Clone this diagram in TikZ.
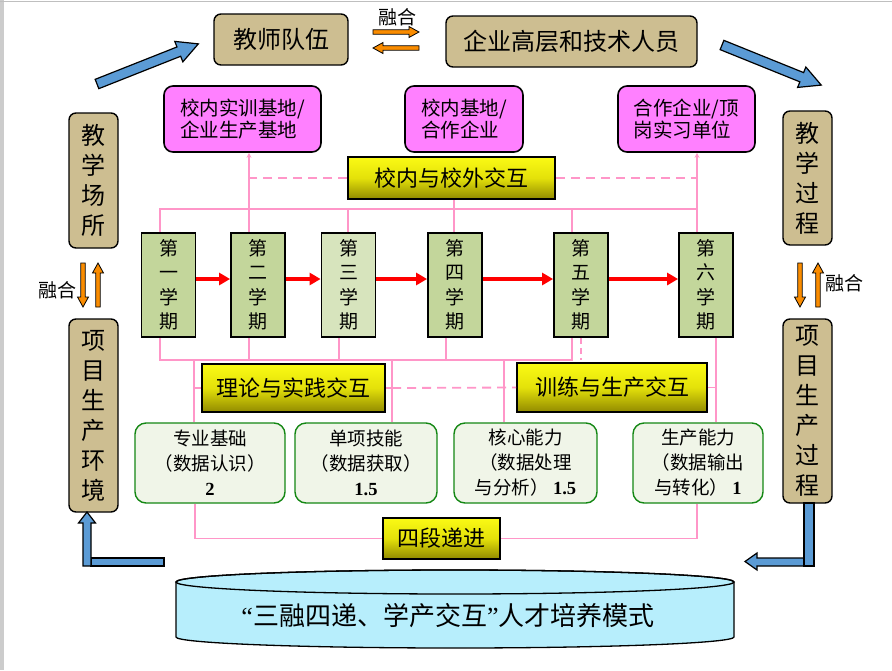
\documentclass[tikz,border=0pt]{standalone}
\usepackage{fontspec}
\setmainfont{Noto Sans CJK SC}
\newfontfamily\numfont{Liberation Serif}
\usetikzlibrary{arrows.meta}
\definecolor{tanc}{RGB}{205,190,145}
\definecolor{pinkc}{RGB}{255,128,255}
\definecolor{ytop}{RGB}{250,250,20}
\definecolor{ymid}{RGB}{228,225,10}
\definecolor{ybot}{RGB}{145,138,0}
\definecolor{semc}{RGB}{195,214,155}
\definecolor{semlc}{RGB}{215,228,189}
\definecolor{gfill}{RGB}{240,245,232}
\definecolor{gborder}{RGB}{20,135,20}
\definecolor{plc}{RGB}{255,150,200}
\definecolor{bluec}{RGB}{91,155,213}
\definecolor{orc}{RGB}{250,140,0}
\definecolor{cylc}{RGB}{183,238,252}
\newcommand{\orarr}[3]{\begin{scope}[shift={#1},rotate=#2]\draw[orshape] (0,-2.2) -- ({#3-10},-2.2) -- ({#3-10},-5.5) -- (#3,0) -- ({#3-10},5.5) -- ({#3-10},2.2) -- (0,2.2) -- cycle;\end{scope}}
\tikzset{
 tanbox/.style={draw, line width=1.4pt, rounded corners=7pt, fill=tanc, inner sep=0pt, align=center, font=\fontsize{24}{30}\selectfont},
 pinkbox/.style={draw, line width=1.6pt, rounded corners=9pt, fill=pinkc, inner sep=0pt, align=left, font=\fontsize{19.5}{22}\selectfont},
 ybox/.style={draw, line width=2pt, top color=ytop, bottom color=ybot, middle color=ymid, inner sep=0pt, font=\fontsize{22}{26}\selectfont},
 sembox/.style={draw, line width=1.8pt, fill=semc, inner sep=0pt, align=center, minimum width=54pt, minimum height=104pt, font=\fontsize{19}{24.5}\selectfont},
 gbox/.style={draw=gborder, line width=1.4pt, rounded corners=11pt, fill=gfill, inner sep=0pt, align=center, minimum height=80pt, font=\fontsize{18.5}{25}\selectfont},
 pl/.style={draw=plc, line width=1.8pt},
 pld/.style={pl, dash pattern=on 9pt off 6pt},
 redarr/.style={draw=red, line width=3.5pt, -{Triangle[length=11pt,width=12pt]}},
 blueshape/.style={draw, line width=1.2pt, fill=bluec, line join=miter},
 orshape/.style={draw, line width=0.8pt, fill=orc},
 mlabel/.style={font=\fontsize{19}{22}\selectfont, inner sep=0pt},
 smallhead/.style={-{Stealth[length=5pt,width=5pt]}},
}
\begin{document}
\begin{tikzpicture}[x=1pt,y=-1pt]
\useasboundingbox (0,0) rectangle (892,670);
\fill[white] (0,0) rectangle (892,670);
\fill[black!20] (0,0) rectangle (4,670);
\draw[black!25, line width=1pt] (0,1) -- (892,1);

% tan boxes
\node[tanbox, minimum width=134pt, minimum height=51pt] (t1) at (281,39.5) {教师队伍};
\node[tanbox, minimum width=251pt, minimum height=51pt] (t2) at (571.5,41.5) {企业高层和技术人员};
\node[tanbox, minimum width=49pt, minimum height=135pt] (t3) at (93.5,180.5) {教\\学\\场\\所};
\node[tanbox, minimum width=49pt, minimum height=193pt] (t4) at (93.5,415.5) {项\\目\\生\\产\\环\\境};
\node[tanbox, minimum width=49pt, minimum height=134pt] (t5) at (807.5,178) {教\\学\\过\\程};
\node[tanbox, minimum width=49pt, minimum height=184pt] (t6) at (807.5,411) {项\\目\\生\\产\\过\\程};

% pink boxes
\node[pinkbox, minimum width=157pt, minimum height=66pt] (pk1) at (242.5,119) {校内实训基地/\\企业生产基地};
\node[pinkbox, minimum width=118pt, minimum height=66pt] (pk2) at (464,119) {校内基地/\\合作企业};
\node[pinkbox, minimum width=137pt, minimum height=66pt] (pk3) at (686.5,119) {合作企业/顶\\岗实习单位};

% yellow boxes
\node[ybox, minimum width=207pt, minimum height=42pt] (y1) at (451.5,178) {校内与校外交互};
\node[ybox, minimum width=183pt, minimum height=48pt] (y2) at (293.5,388) {理论与实践交互};
\node[ybox, minimum width=190pt, minimum height=49pt] (y3) at (612,387.5) {训练与生产交互};
\node[ybox, minimum width=117pt, minimum height=41pt] (y4) at (441.5,538.5) {四段递进};

% semesters
\node[sembox] (s1) at (168.5,285) {第\\一\\学\\期};
\node[sembox] (s2) at (258,285) {第\\二\\学\\期};
\node[sembox, fill=semlc] (s3) at (348.5,285) {第\\三\\学\\期};
\node[sembox] (s4) at (455,285) {第\\四\\学\\期};
\node[sembox] (s5) at (581,285) {第\\五\\学\\期};
\node[sembox] (s6) at (706,285) {第\\六\\学\\期};

% green boxes
\node[gbox, minimum width=150pt] (g1) at (210,463) {专业基础\\（数据认识）\\{\numfont\bfseries 2}};
\node[gbox, minimum width=142pt] (g2) at (366,463) {单项技能\\（数据获取）\\{\numfont\bfseries 1.5}};
\node[gbox, minimum width=143pt] (g3) at (525.5,463) {核心能力\\（数据处理\\与分析） {\numfont\bfseries 1.5}};
\node[gbox, minimum width=130pt] (g4) at (698,463) {生产能力\\（数据输出\\与转化） {\numfont\bfseries 1}};

% reference coordinates
\coordinate (bt) at (0,209);
\coordinate (bb) at (0,360);
\coordinate (xa) at (160,0);
\coordinate (xb) at (249,0);
\coordinate (xc) at (348,0);
\coordinate (xd) at (454,0);
\coordinate (xe) at (572,0);
\coordinate (xf) at (697,0);
\coordinate (xc2) at (339,0);
\coordinate (xd2) at (446,0);
\coordinate (xdash) at (581,0);
\coordinate (xg1) at (194,0);
\coordinate (xg2) at (392,0);
\coordinate (xg3) at (504,0);
\coordinate (xg4) at (716,0);
\coordinate (xh) at (195,0);

% top pink network
\draw[pl] (s1.north -| xa) -- (bt -| xa) -- (bt -| xf);
\draw[pl, smallhead] (s2.north -| xb) -- (pk1.south -| xb);
\draw[pl, smallhead] (s6.north -| xf) -- (pk3.south -| xf);
\draw[pl] (s3.north -| xc) -- (bt -| xc);
\draw[pl] (s4.north -| xd) -- (y1.south -| xd);
\draw[pl] (s5.north -| xe) -- (bt -| xe);
\draw[pld] (y1.west) -- (y1.west -| xb);
\draw[pld] (y1.east) -- (y1.east -| xf);

% bottom pink network
\draw[pl] (s1.south -| xa) -- (bb -| xa) -- (bb -| xe) -- (s5.south -| xe);
\draw[pl] (s2.south -| xb) -- (bb -| xb);
\draw[pl] (s3.south -| xc2) -- (bb -| xc2);
\draw[pl] (s4.south -| xd2) -- (bb -| xd2);
\draw[pl, dash pattern=on 6pt off 4pt] (s5.south -| xdash) -- (bb -| xdash);
\draw[pl] (bb -| xg1) -- (g1.north -| xg1);
\draw[pl] (bb -| xg2) -- (g2.north -| xg2);
\draw[pl] (bb -| xg3) -- (g3.north -| xg3);
\draw[pl] (s6.south -| xg4) -- (g4.north -| xg4);
\draw[pl] (y2.west -| xg1) -- (y2.west);
\draw[pl] (y2.east) -- (y2.east -| xg2);
\draw[pld] (y2.east -| xg2) -- (y3.west);
\draw[pl] (y3.east) -- (y3.east -| xg4);
\draw[pl] (g1.south -| xh) |- (y4.west);
\draw[pl] (g4.south -| xf) |- (y4.east);

% red arrows
\draw[redarr] ([yshift=6pt]s1.east) -- ([yshift=6pt]s2.west);
\draw[redarr] ([yshift=6pt]s2.east) -- ([yshift=6pt]s3.west);
\draw[redarr] ([yshift=6pt]s3.east) -- ([yshift=6pt]s4.west);
\draw[redarr] ([yshift=6pt]s4.east) -- ([yshift=6pt]s5.west);
\draw[redarr] ([yshift=6pt]s5.east) -- ([yshift=6pt]s6.west);

% blue arrows
\begin{scope}[shift={(97,84)},rotate=21.6]
\draw[blueshape] (0,-5) -- (88,-5) -- (88,-11) -- (109,0) -- (88,11) -- (88,5) -- (0,5) -- cycle;
\end{scope}
\begin{scope}[shift={(722,45)},rotate=-22]
\draw[blueshape] (0,-5) -- (86,-5) -- (86,-11) -- (107,0) -- (86,11) -- (86,5) -- (0,5) -- cycle;
\end{scope}
\draw[blueshape] (91,558) rectangle (164,566);
\draw[blueshape] (83,566) -- (83,523) -- (78.5,523) -- (87,512) -- (95.5,523) -- (91,523) -- (91,566) -- cycle;
\draw[blueshape] (804,558) -- (757,558) -- (757,553) -- (745,561.5) -- (757,570) -- (757,566) -- (804,566) -- cycle;
\draw[blueshape] (804,503) rectangle (814,566);

% orange arrows and labels
\orarr{(373,32)}{0}{46}
\orarr{(419,48)}{180}{46}
\orarr{(83,263)}{-90}{44}
\orarr{(98,307)}{90}{44}
\orarr{(800,263)}{-90}{44}
\orarr{(818,307)}{90}{44}
\node[mlabel] (fh1) at (397,17.5) {融合};
\node[mlabel] (fh2) at (57,290) {融合};
\node[mlabel] (fh3) at (844,283) {融合};

% cylinder
\path[fill=cylc, draw, line width=1.3pt] (176,582) -- (176,637) arc[start angle=180,end angle=360,x radius=279pt,y radius=11pt] -- (734,582) arc[start angle=0,end angle=180,x radius=279pt,y radius=12pt] -- cycle;
\draw[line width=1.3pt] (455,582) ellipse [x radius=279pt, y radius=12pt];
\node[font=\fontsize{26}{30}\selectfont, inner sep=0pt] (cy) at (448,616) {{\numfont “}三融四递、学产交互{\numfont ”}人才培养模式};
\end{tikzpicture}
\end{document}
